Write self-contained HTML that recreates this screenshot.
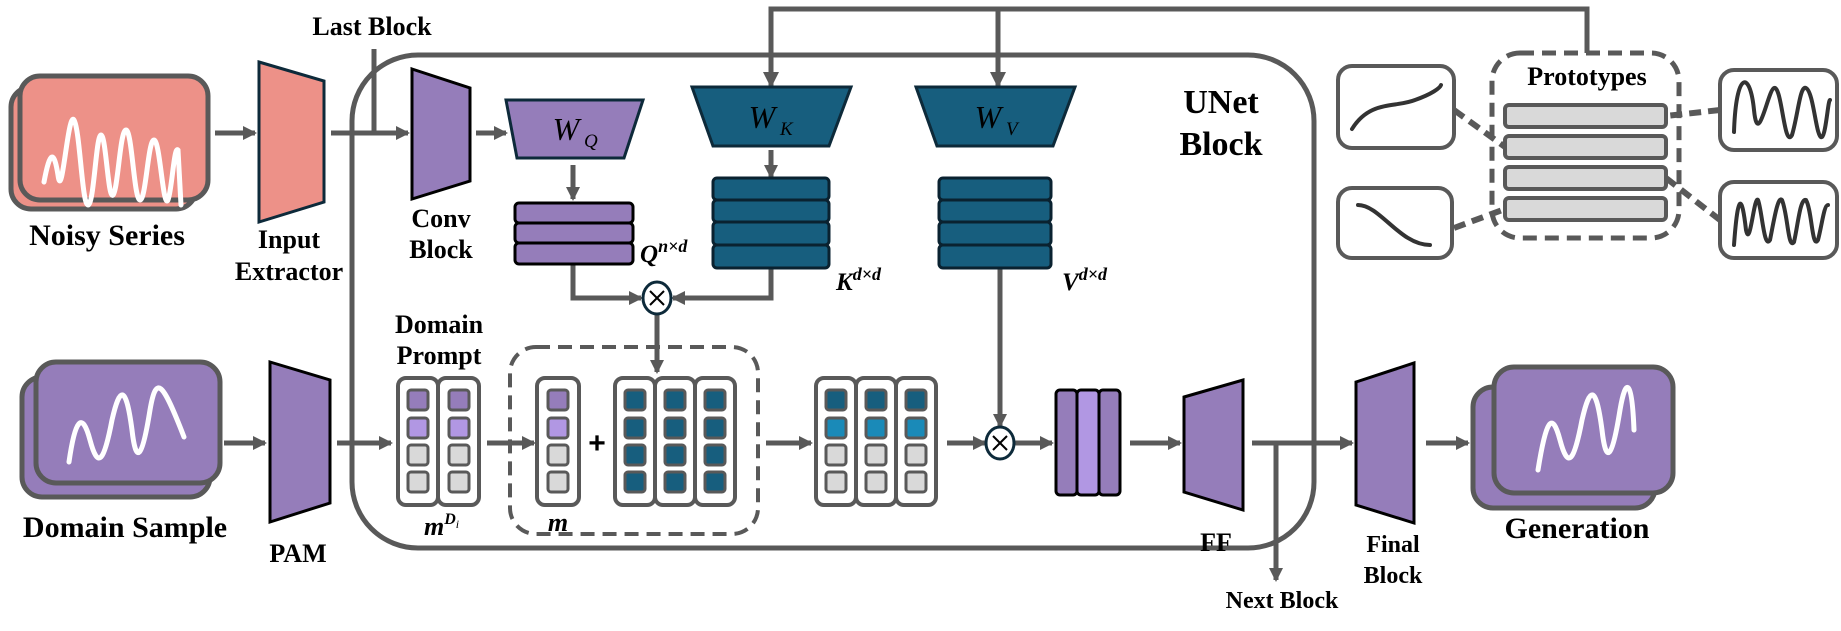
<!DOCTYPE html>
<html><head><meta charset="utf-8"><style>
html,body{margin:0;padding:0;background:#fff;}
svg{display:block;}
text{font-family:"Liberation Serif",serif;font-weight:bold;fill:#000;}
.n{font-weight:normal;}
</style></head><body>
<svg width="1841" height="631" viewBox="0 0 1841 631" xmlns="http://www.w3.org/2000/svg">
<defs>
<marker id="ah" markerWidth="14" markerHeight="14" refX="12" refY="7" orient="auto" markerUnits="userSpaceOnUse">
<path d="M0,0 L14,7 L0,14 z" fill="#595959"/></marker>
<marker id="ah2" markerWidth="16" markerHeight="16" refX="14" refY="8" orient="auto" markerUnits="userSpaceOnUse">
<path d="M0,0 L16,8 L0,16 z" fill="#595959"/></marker>
</defs>
<g stroke="#595959" stroke-width="5" fill="none">
<rect x="352" y="55" width="962" height="493" rx="66" ry="66"/>
<polyline points="771,87 771,9 1587,9 1587,53" />
</g>
<g stroke="#595959" stroke-width="5" fill="none" marker-end="url(#ah2)">
<line x1="771" y1="9" x2="771" y2="86"/>
<line x1="998" y1="9" x2="998" y2="86"/>
</g>

<!-- Noisy Series -->
<rect x="11" y="87" width="185" height="122" rx="20" fill="#ED9188" stroke="#595959" stroke-width="5"/>
<rect x="20" y="76" width="188" height="124" rx="20" fill="#ED9188" stroke="#595959" stroke-width="5"/>
<path d="M44,182 C50,150 54,150 58,175 C62,205 68,110 74,120 C80,130 82,205 88,205 C94,205 96,135 101,135 C106,135 108,200 113,195 C118,190 120,130 126,130 C132,130 134,200 140,200 C146,200 148,140 154,140 C160,140 163,210 168,200 C172,190 174,145 178,150 L181,205" stroke="#fff" stroke-width="5" fill="none" stroke-linecap="round"/>
<text x="107" y="245" font-size="30" text-anchor="middle">Noisy Series</text>

<polygon points="259,62 324,81 324,202 259,222" fill="#ED9188" stroke="#0d2a3a" stroke-width="3"/>
<text x="289" y="248" font-size="26" text-anchor="middle">Input</text>
<text x="289" y="280" font-size="26" text-anchor="middle">Extractor</text>
<text x="372" y="35" font-size="26" text-anchor="middle">Last Block</text>

<g stroke="#595959" stroke-width="5" fill="none" marker-end="url(#ah)">
<line x1="215" y1="133" x2="255" y2="133"/>
<line x1="476" y1="133" x2="506" y2="133"/>
<line x1="573" y1="165" x2="573" y2="199"/>
<line x1="771" y1="150" x2="771" y2="177"/>
<line x1="657" y1="315" x2="657" y2="372"/>
<line x1="224" y1="443" x2="265" y2="443"/>
<line x1="337" y1="443" x2="391" y2="443"/>
<line x1="487" y1="443" x2="534" y2="443"/>
<line x1="766" y1="443" x2="811" y2="443"/>
<line x1="947" y1="443" x2="985" y2="443"/>
<line x1="1015" y1="443" x2="1052" y2="443"/>
<line x1="1130" y1="443" x2="1180" y2="443"/>
<line x1="1252" y1="443" x2="1352" y2="443"/>
<line x1="1426" y1="443" x2="1468" y2="443"/>
<line x1="1276" y1="443" x2="1276" y2="580"/>
<line x1="1000" y1="268" x2="1000" y2="426"/>
<line x1="374" y1="133" x2="408" y2="133"/>
<line x1="573" y1="298" x2="641" y2="298"/>
<line x1="771" y1="298" x2="673" y2="298"/>
</g>
<g stroke="#595959" stroke-width="5" fill="none">
<line x1="374" y1="49" x2="374" y2="133"/>
<line x1="331" y1="133" x2="376" y2="133"/>
<polyline points="573,265 573,298 600,298"/>
<polyline points="771,268 771,298 740,298"/>
</g>

<polygon points="412,69 470,88 470,181 412,199" fill="#957DBA" stroke="#000" stroke-width="3"/>
<text x="441" y="227" font-size="26" text-anchor="middle">Conv</text>
<text x="441" y="258" font-size="26" text-anchor="middle">Block</text>

<polygon points="506,100 643,100 624,158 517,158" fill="#957DBA" stroke="#0d2a3a" stroke-width="3"/>
<text class="n" x="566" y="140" font-size="32" font-style="italic" text-anchor="middle">W</text>
<text class="n" x="584" y="147" font-size="19" font-style="italic">Q</text>
<polygon points="692,87 851,87 829,146 713,146" fill="#175E7E" stroke="#0d2a3a" stroke-width="3"/>
<text class="n" x="762" y="128" font-size="32" font-style="italic" text-anchor="middle">W</text>
<text class="n" x="780" y="135" font-size="19" font-style="italic">K</text>
<polygon points="916,87 1075,87 1053,146 937,146" fill="#175E7E" stroke="#0d2a3a" stroke-width="3"/>
<text class="n" x="988" y="128" font-size="32" font-style="italic" text-anchor="middle">W</text>
<text class="n" x="1006" y="135" font-size="19" font-style="italic">V</text>

<g fill="#957DBA" stroke="#000" stroke-width="3">
<rect x="515" y="203" width="118" height="20" rx="4"/>
<rect x="515" y="223" width="118" height="20" rx="4"/>
<rect x="515" y="243" width="118" height="21" rx="4"/>
</g>
<g fill="#175E7E" stroke="#0a2230" stroke-width="3">
<rect x="713" y="178" width="116" height="22" rx="4"/>
<rect x="713" y="200" width="116" height="22" rx="4"/>
<rect x="713" y="222" width="116" height="23" rx="4"/>
<rect x="713" y="245" width="116" height="23" rx="4"/>
<rect x="939" y="178" width="112" height="22" rx="4"/>
<rect x="939" y="200" width="112" height="22" rx="4"/>
<rect x="939" y="222" width="112" height="23" rx="4"/>
<rect x="939" y="245" width="112" height="23" rx="4"/>
</g>
<text x="640" y="262" font-size="25" font-style="italic">Q<tspan font-size="18" dy="-10">n×d</tspan></text>
<text x="836" y="290" font-size="25" font-style="italic">K<tspan font-size="18" dy="-10">d×d</tspan></text>
<text x="1062" y="290" font-size="25" font-style="italic">V<tspan font-size="18" dy="-10">d×d</tspan></text>

<g fill="#fff" stroke="#0d2a3a" stroke-width="3">
<ellipse cx="657" cy="298" rx="14" ry="16"/>
<ellipse cx="1000" cy="443" rx="14" ry="16"/>
</g>
<g stroke="#000" stroke-width="2">
<line x1="650" y1="291" x2="664" y2="305"/><line x1="664" y1="291" x2="650" y2="305"/>
<line x1="993" y1="436" x2="1007" y2="450"/><line x1="1007" y1="436" x2="993" y2="450"/>
</g>

<text x="439" y="333" font-size="26" text-anchor="middle">Domain</text>
<text x="439" y="364" font-size="26" text-anchor="middle">Prompt</text>
<g fill="#fff" stroke="#595959" stroke-width="4">
<rect x="398" y="378" width="40" height="127" rx="8"/>
<rect x="438" y="378" width="41" height="127" rx="8"/>
<rect x="537" y="378" width="42" height="127" rx="8"/>
<rect x="615" y="378" width="40" height="127" rx="8"/>
<rect x="655" y="378" width="40" height="127" rx="8"/>
<rect x="695" y="378" width="40" height="127" rx="8"/>
<rect x="816" y="378" width="40" height="127" rx="8"/>
<rect x="856" y="378" width="40" height="127" rx="8"/>
<rect x="896" y="378" width="40" height="127" rx="8"/>
</g>
<g stroke="#595959" stroke-width="3">
<g fill="#957DBA"><rect x="408" y="390" width="20" height="20" rx="3"/><rect x="449" y="390" width="20" height="20" rx="3"/><rect x="548" y="390" width="20" height="20" rx="3"/></g>
<g fill="#B197E3"><rect x="408" y="418" width="20" height="20" rx="3"/><rect x="449" y="418" width="20" height="20" rx="3"/><rect x="548" y="418" width="20" height="20" rx="3"/></g>
<g fill="#D9D9D9"><rect x="408" y="445" width="20" height="20" rx="3"/><rect x="449" y="445" width="20" height="20" rx="3"/><rect x="548" y="445" width="20" height="20" rx="3"/>
<rect x="408" y="472" width="20" height="20" rx="3"/><rect x="449" y="472" width="20" height="20" rx="3"/><rect x="548" y="472" width="20" height="20" rx="3"/></g>
<g fill="#175E7E">
<rect x="625" y="390" width="20" height="20" rx="3"/><rect x="665" y="390" width="20" height="20" rx="3"/><rect x="705" y="390" width="20" height="20" rx="3"/>
<rect x="625" y="418" width="20" height="20" rx="3"/><rect x="665" y="418" width="20" height="20" rx="3"/><rect x="705" y="418" width="20" height="20" rx="3"/>
<rect x="625" y="445" width="20" height="20" rx="3"/><rect x="665" y="445" width="20" height="20" rx="3"/><rect x="705" y="445" width="20" height="20" rx="3"/>
<rect x="625" y="472" width="20" height="20" rx="3"/><rect x="665" y="472" width="20" height="20" rx="3"/><rect x="705" y="472" width="20" height="20" rx="3"/>
<rect x="826" y="390" width="20" height="20" rx="3"/><rect x="866" y="390" width="20" height="20" rx="3"/><rect x="906" y="390" width="20" height="20" rx="3"/>
</g>
<g fill="#1A8AB8"><rect x="826" y="418" width="20" height="20" rx="3"/><rect x="866" y="418" width="20" height="20" rx="3"/><rect x="906" y="418" width="20" height="20" rx="3"/></g>
<g fill="#D9D9D9">
<rect x="826" y="445" width="20" height="20" rx="3"/><rect x="866" y="445" width="20" height="20" rx="3"/><rect x="906" y="445" width="20" height="20" rx="3"/>
<rect x="826" y="472" width="20" height="20" rx="3"/><rect x="866" y="472" width="20" height="20" rx="3"/><rect x="906" y="472" width="20" height="20" rx="3"/>
</g>
</g>
<text x="597" y="453" font-size="30" text-anchor="middle" style="font-family:'Liberation Sans',sans-serif">+</text>
<rect x="510" y="347" width="248" height="187" rx="26" fill="none" stroke="#595959" stroke-width="4" stroke-dasharray="14,8"/>
<text x="424" y="535" font-size="26" font-style="italic">m<tspan font-size="16" dy="-11">D</tspan><tspan class="n" font-size="12" dy="4">i</tspan></text>
<text x="558" y="531" font-size="26" font-style="italic" text-anchor="middle">m</text>

<g stroke="#000" stroke-width="3">
<rect x="1056" y="390" width="21" height="105" rx="4" fill="#957DBA"/>
<rect x="1077" y="390" width="22" height="105" rx="4" fill="#B197E3"/>
<rect x="1099" y="390" width="21" height="105" rx="4" fill="#957DBA"/>
</g>
<polygon points="1184,397 1243,380 1243,510 1184,492" fill="#957DBA" stroke="#000" stroke-width="3"/>
<text x="1216" y="551" font-size="26" text-anchor="middle">FF</text>
<text x="1282" y="608" font-size="24" text-anchor="middle">Next Block</text>
<polygon points="1356,382 1414,363 1414,523 1356,505" fill="#957DBA" stroke="#000" stroke-width="3"/>
<text x="1393" y="552" font-size="24" text-anchor="middle">Final</text>
<text x="1393" y="583" font-size="24" text-anchor="middle">Block</text>
<text x="1221" y="113" font-size="34" text-anchor="middle">UNet</text>
<text x="1221" y="155" font-size="34" text-anchor="middle">Block</text>

<rect x="1473" y="387" width="182" height="121" rx="20" fill="#957DBA" stroke="#595959" stroke-width="5"/>
<rect x="1494" y="367" width="179" height="126" rx="20" fill="#957DBA" stroke="#595959" stroke-width="5"/>
<path d="M1538,470 C1546,420 1552,410 1560,440 C1568,470 1574,462 1582,420 C1590,385 1596,385 1602,430 C1606,465 1612,460 1620,410 C1626,375 1632,380 1634,430" stroke="#fff" stroke-width="5" fill="none" stroke-linecap="round"/>
<text x="1577" y="538" font-size="30" text-anchor="middle">Generation</text>

<rect x="22" y="377" width="188" height="120" rx="20" fill="#957DBA" stroke="#595959" stroke-width="5"/>
<rect x="36" y="362" width="184" height="121" rx="20" fill="#957DBA" stroke="#595959" stroke-width="5"/>
<path d="M69,462 C75,420 82,410 90,440 C98,470 104,462 112,420 C120,385 126,385 132,430 C136,465 142,460 150,410 C156,375 162,380 184,437" stroke="#fff" stroke-width="5" fill="none" stroke-linecap="round"/>
<text x="125" y="537" font-size="30" text-anchor="middle">Domain Sample</text>
<polygon points="270,362 330,380 330,503 270,522" fill="#957DBA" stroke="#000" stroke-width="3"/>
<text x="298" y="562" font-size="26" text-anchor="middle">PAM</text>

<rect x="1492" y="53" width="187" height="185" rx="28" fill="none" stroke="#595959" stroke-width="5" stroke-dasharray="14,8"/>
<text x="1587" y="85" font-size="26" text-anchor="middle">Prototypes</text>
<g fill="#D9D9D9" stroke="#595959" stroke-width="4">
<rect x="1505" y="105" width="161" height="22" rx="4"/>
<rect x="1505" y="136" width="161" height="22" rx="4"/>
<rect x="1505" y="167" width="161" height="22" rx="4"/>
<rect x="1505" y="198" width="161" height="22" rx="4"/>
</g>
<g fill="#fff" stroke="#595959" stroke-width="4">
<rect x="1338" y="66" width="116" height="82" rx="14"/>
<rect x="1338" y="188" width="114" height="70" rx="14"/>
<rect x="1720" y="70" width="117" height="80" rx="14"/>
<rect x="1720" y="182" width="117" height="76" rx="14"/>
</g>
<g stroke="#595959" stroke-width="6" stroke-dasharray="12,7" fill="none">
<line x1="1454" y1="110" x2="1505" y2="147"/>
<line x1="1720" y1="110" x2="1666" y2="116"/>
<line x1="1666" y1="178" x2="1720" y2="220"/>
<line x1="1454" y1="228" x2="1505" y2="209"/>
</g>
<g stroke="#333" stroke-width="4" fill="none" stroke-linecap="round">
<path d="M1352,129 C1370,100 1395,108 1415,100 C1432,94 1440,88 1441,85"/>
<path d="M1358,205 C1380,205 1400,245 1430,245"/>
<path d="M1734,132 C1736,70 1750,70 1754,110 C1758,150 1768,90 1774,88 C1782,85 1784,150 1792,135 C1798,115 1800,85 1806,88 C1814,92 1816,140 1822,137 C1826,134 1828,100 1830,100"/>
<path d="M1734,245 C1738,190 1742,195 1746,230 C1750,250 1754,195 1758,200 C1762,210 1764,250 1770,240 C1774,220 1778,195 1782,200 C1788,215 1788,250 1794,242 C1798,225 1800,198 1806,200 C1812,210 1812,250 1818,240 C1822,225 1824,205 1828,205"/>
</g>
</svg>
</body></html>
